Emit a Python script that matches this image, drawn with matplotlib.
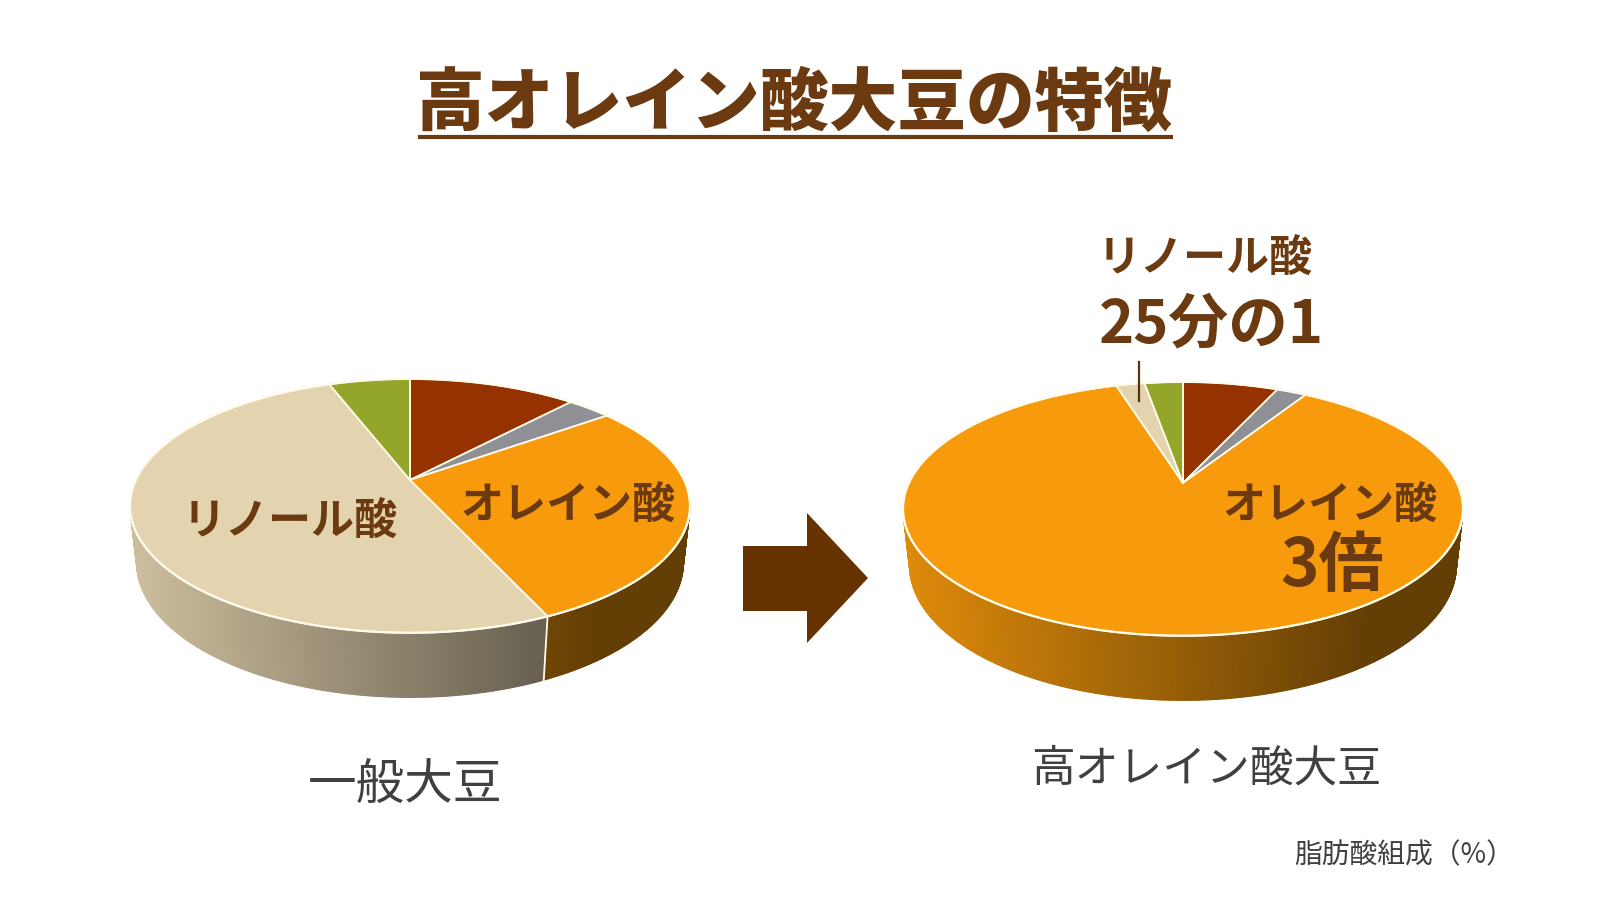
import numpy as np
import matplotlib
matplotlib.use('Agg')
import matplotlib.pyplot as plt
from matplotlib.collections import PolyCollection
from matplotlib.patches import Polygon
from matplotlib.colors import to_rgb

plt.rcParams['font.family'] = ['Noto Sans CJK JP', 'DejaVu Sans']

# ---------------- data ----------------
categories = ['パルミチン酸', 'ステアリン酸', 'オレイン酸', 'リノール酸', 'リノレン酸']
general_soy = [11.8, 3.1, 28.4, 51.0, 5.7]        # 一般大豆 (%)
high_oleic_soy = [6.7, 2.1, 86.5, 2.0, 2.7]       # 高オレイン酸大豆 (%)
pie_titles = ['一般大豆', '高オレイン酸大豆']
title = '高オレイン酸大豆の特徴'
unit_note = '脂肪酸組成（%）'

# ---------------- style ----------------
slice_colors = ['#963200', '#8E9096', '#F79A0C', '#E3D3AF', '#93A629']
BROWN = '#6B3A10'
ARROW = '#663300'
GREY_TXT = '#404040'
EDGE = '#FFFBEA'

W, H = 1619, 911
fig = plt.figure(figsize=(W / 100, H / 100), dpi=100)
ax = fig.add_axes([0, 0, 1, 1])
ax.set_xlim(0, W)
ax.set_ylim(H, 0)
ax.axis('off')

# perspective camera for the 3-D pies
S_EL = 0.444
C_EL = np.sqrt(1 - S_EL ** 2)
DIST = 4.41
FOCAL = 1209
DEPTH = 0.23


def project(X, Y, Z, cx, cy):
    zc = DIST + Y * C_EL - Z * S_EL
    u = FOCAL * X / zc
    v = FOCAL * (Y * S_EL + Z * C_EL) / zc
    return cx + u, cy - v


def draw_pie(values, cx, cy):
    vals = np.asarray(values, float)
    frac = vals / vals.sum()
    edges = np.concatenate([[0], np.cumsum(frac)]) * 2 * np.pi
    vis_lo = np.arccos(-1 / (DIST * C_EL))
    vis_hi = 2 * np.pi - vis_lo
    half_w = FOCAL * 0.2316
    left, right = cx - half_w, cx + half_w
    quads, qcols = [], []
    rgbs = [np.array(to_rgb(c)) for c in slice_colors]
    for i in range(len(vals)):
        a0, a1 = max(edges[i], vis_lo), min(edges[i + 1], vis_hi)
        if a1 <= a0:
            continue
        n = max(2, int((a1 - a0) / np.radians(0.4)))
        t = np.linspace(a0, a1, n + 1)
        X, Y = np.sin(t), np.cos(t)
        xt, yt = project(X, Y, 0, cx, cy)
        xb, yb = project(X, Y, -DEPTH, cx, cy)
        for k in range(n):
            quads.append([(xt[k], yt[k]), (xt[k + 1], yt[k + 1]),
                          (xb[k + 1], yb[k + 1]), (xb[k], yb[k])])
            xm = 0.5 * (xt[k] + xt[k + 1])
            tt = (xm - left) / (right - left)
            fct = np.clip(0.9 - 0.6 * tt, 0.4, 1.0)
            qcols.append(tuple(np.clip(rgbs[i] * fct, 0, 1)))
    pc = PolyCollection(quads, facecolors=qcols, edgecolors=qcols,
                        linewidths=0.8, zorder=2)
    ax.add_collection(pc)
    # side boundaries between slices
    for e in edges[1:-1]:
        if vis_lo < e < vis_hi:
            x0, y0 = project(np.sin(e), np.cos(e), 0, cx, cy)
            x1, y1 = project(np.sin(e), np.cos(e), -DEPTH, cx, cy)
            ax.plot([x0, x1], [y0, y1], color=EDGE, lw=1.3, zorder=3)
    # top face
    for i in range(len(vals)):
        n = max(3, int((edges[i + 1] - edges[i]) / np.radians(0.5)))
        t = np.linspace(edges[i], edges[i + 1], n + 1)
        xt, yt = project(np.sin(t), np.cos(t), 0, cx, cy)
        ax0, ay0 = project(0.0, 0.0, 0.0, cx, cy)
        pts = np.vstack([[ax0, ay0], np.c_[xt, yt]])
        ax.add_patch(Polygon(pts, closed=True, facecolor=slice_colors[i],
                             edgecolor=EDGE, lw=1.3, zorder=4,
                             joinstyle='round'))
    t = np.linspace(0, 2 * np.pi, 721)
    xr, yr = project(np.sin(t), np.cos(t), 0, cx, cy)
    ax.plot(xr, yr, color=EDGE, lw=1.6, zorder=5)
    return edges


# ---------------- pies ----------------
draw_pie(general_soy, 410, 480)
edges_r = draw_pie(high_oleic_soy, 1183, 483)

# leader line for linoleic slice of the right pie
mid = 0.5 * (edges_r[3] + edges_r[4])
lx, ly = project(0.8 * np.sin(mid), 0.8 * np.cos(mid), 0, 1183, 483)
ax.plot([lx, lx], [ly, 362], color='#5A3210', lw=1.6, zorder=6)

# ---------------- title ----------------
ax.text(794, 104, title, fontsize=49.5, fontweight='heavy', color=BROWN,
        ha='center', va='center', zorder=10)
ax.plot([418, 1173], [137, 137], color=BROWN, lw=3, solid_capstyle='butt')

# ---------------- slice labels ----------------
ax.text(290, 521, categories[3], fontsize=31, fontweight='bold', color=BROWN,
        ha='center', va='center', zorder=10)
ax.text(568, 505, categories[2], fontsize=31, fontweight='bold', color=BROWN,
        ha='center', va='center', zorder=10)
ax.text(1330, 505, categories[2], fontsize=31, fontweight='bold', color=BROWN,
        ha='center', va='center', zorder=10)
ax.text(1332, 567, '3倍', fontsize=47, fontweight='bold', color=BROWN,
        ha='center', va='center', zorder=10)
ax.text(1205, 258, categories[3], fontsize=31, fontweight='bold', color=BROWN,
        ha='center', va='center', zorder=10)
ax.text(1211, 325, '25分の1', fontsize=43, fontweight='bold', color=BROWN,
        ha='center', va='center', zorder=10)

# ---------------- arrow ----------------
ax.fill([743, 807, 807, 868, 807, 807, 743],
        [546, 546, 513, 578, 643, 611, 611], color=ARROW, lw=0, zorder=6)

# ---------------- bottom captions ----------------
ax.text(405, 786, pie_titles[0], fontsize=35, color=GREY_TXT,
        ha='center', va='center')
ax.text(1206, 769, pie_titles[1], fontsize=31.5, color=GREY_TXT,
        ha='center', va='center')
ax.text(1514, 855, unit_note, fontsize=20, color=GREY_TXT,
        ha='right', va='center')

fig.savefig('out.png', dpi=100, facecolor='white')
